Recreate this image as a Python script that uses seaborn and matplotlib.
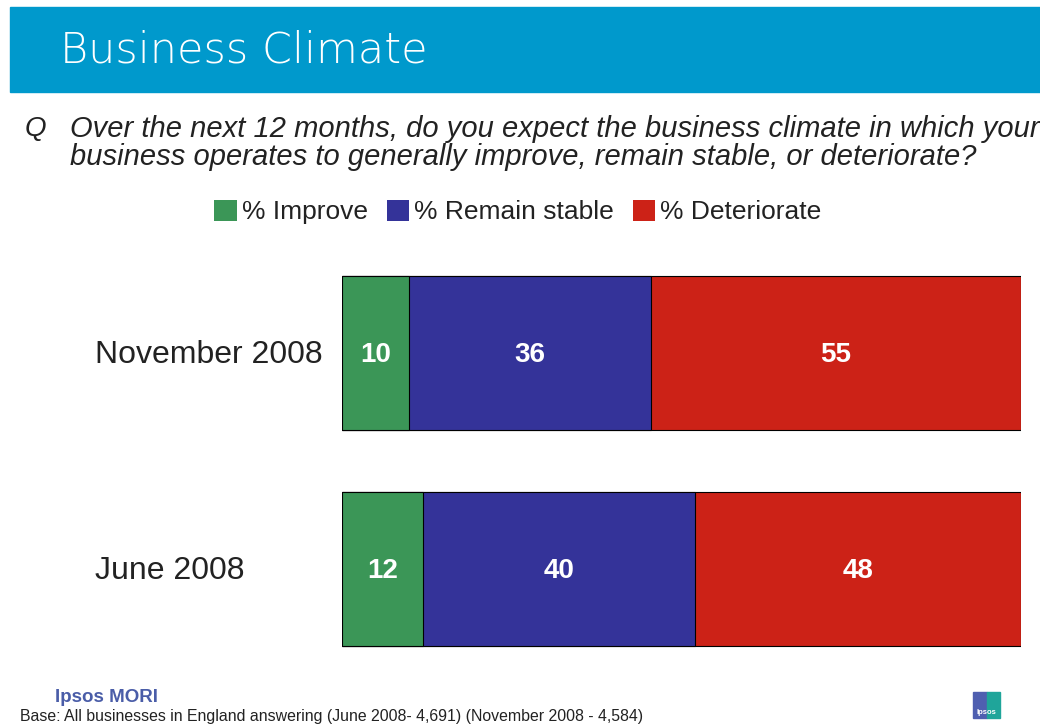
import matplotlib
matplotlib.use("Agg")
import matplotlib.pyplot as plt
import matplotlib.patches as mpatches
import matplotlib.transforms as mtransforms
import pandas as pd
import seaborn as sns

# data
periods = ["November 2008", "June 2008"]
improve = [10, 12]
stable = [36, 40]
deteriorate = [55, 48]
series_names = ["% Improve", "% Remain stable", "% Deteriorate"]
series_colors = ["#3b9657", "#343399", "#cc2217"]

df = pd.DataFrame({"period": periods, "improve": improve,
                   "stable": stable, "deteriorate": deteriorate})
total = df["improve"] + df["stable"] + df["deteriorate"]
# each bar filled to full width (100% stacked)
df["c1"] = df["improve"] / total * 100
df["c2"] = (df["improve"] + df["stable"]) / total * 100
df["c3"] = 100.0

sns.set_theme(style="white")
plt.rcParams["font.family"] = ["Liberation Sans", "DejaVu Sans"]

fig = plt.figure(figsize=(10.4, 7.24), dpi=100)

# header band
fig.patches.append(mpatches.Rectangle((10 / 1040, 1 - 92 / 724), 1030 / 1040, 85 / 724,
                                      transform=fig.transFigure, color="#0099cc", zorder=0))
fig.text(60 / 1040, 1 - 50 / 724, "Business Climate", color="white", fontsize=31,
         family=["DejaVu Sans"], fontweight="light", va="center", ha="left")

# question
fig.text(25 / 1040, 1 - 129 / 724, "Q", fontsize=20, color="#222222", va="center", style="italic")
fig.text(70 / 1040, 1 - 143 / 724,
         "Over the next 12 months, do you expect the business climate in which your\n"
         "business operates to generally improve, remain stable, or deteriorate?",
         fontsize=21, color="#222222", style="italic", va="center", ha="left", linespacing=1.0)

ax = fig.add_axes([342 / 1040, 1 - 677 / 724, 679 / 1040, 432 / 724])
for col, colr in zip(["c3", "c2", "c1"], series_colors[::-1]):
    sns.barplot(data=df, x=col, y="period", color=colr, orient="h", width=0.713,
                edgecolor="black", linewidth=0.8, saturation=1, ax=ax)

label_tr = mtransforms.blended_transform_factory(fig.transFigure, ax.transData)
for i, row in df.iterrows():
    starts = [0, row["c1"], row["c2"]]
    ends = [row["c1"], row["c2"], row["c3"]]
    vals = [row["improve"], row["stable"], row["deteriorate"]]
    for s, e, v in zip(starts, ends, vals):
        ax.text((s + e) / 2, i + 0.01, str(v), color="white", fontsize=20, fontweight="bold",
                ha="center", va="center")
    ax.text(95 / 1040, i + 0.01, row["period"], transform=label_tr,
            fontsize=23, color="#222222", ha="left", va="center")

ax.set_xlim(0, 100)
ax.set_ylim(1.5, -0.5)
ax.set_xlabel("")
ax.set_ylabel("")
ax.set_xticks([])
ax.set_yticks([])
for sp in ax.spines.values():
    sp.set_visible(False)

# legend
handles = [mpatches.Patch(facecolor=c, edgecolor="none", label=n)
           for c, n in zip(series_colors, series_names)]
fig.legend(handles=handles, loc="center", bbox_to_anchor=(518 / 1040, 1 - 212 / 724), ncol=3,
           frameon=False, fontsize=19, handlelength=0.85, handleheight=0.85,
           handletextpad=0.2, columnspacing=0.7, labelcolor="#222222")

# footer
fig.text(55 / 1040, 1 - 697 / 724, "Ipsos MORI", fontsize=13.5, fontweight="bold",
         color="#4a5da8", va="center", ha="left")
fig.text(20 / 1040, 1 - 716 / 724,
         "Base: All businesses in England answering (June 2008- 4,691) (November 2008 - 4,584)",
         fontsize=11.4, color="#222222", va="center", ha="left")

# small logo
fig.patches.append(mpatches.Rectangle((973 / 1040, 1 - 718 / 724), 14 / 1040, 26 / 724,
                                      transform=fig.transFigure, color="#4f5fb0", zorder=1))
fig.patches.append(mpatches.Rectangle((987 / 1040, 1 - 718 / 724), 13 / 1040, 26 / 724,
                                      transform=fig.transFigure, color="#1fa59a", zorder=1))
fig.text(986.5 / 1040, 1 - 712 / 724, "Ipsos", fontsize=5.5, color="white",
         ha="center", va="center", fontweight="bold")

fig.savefig("out.png", dpi=100)
